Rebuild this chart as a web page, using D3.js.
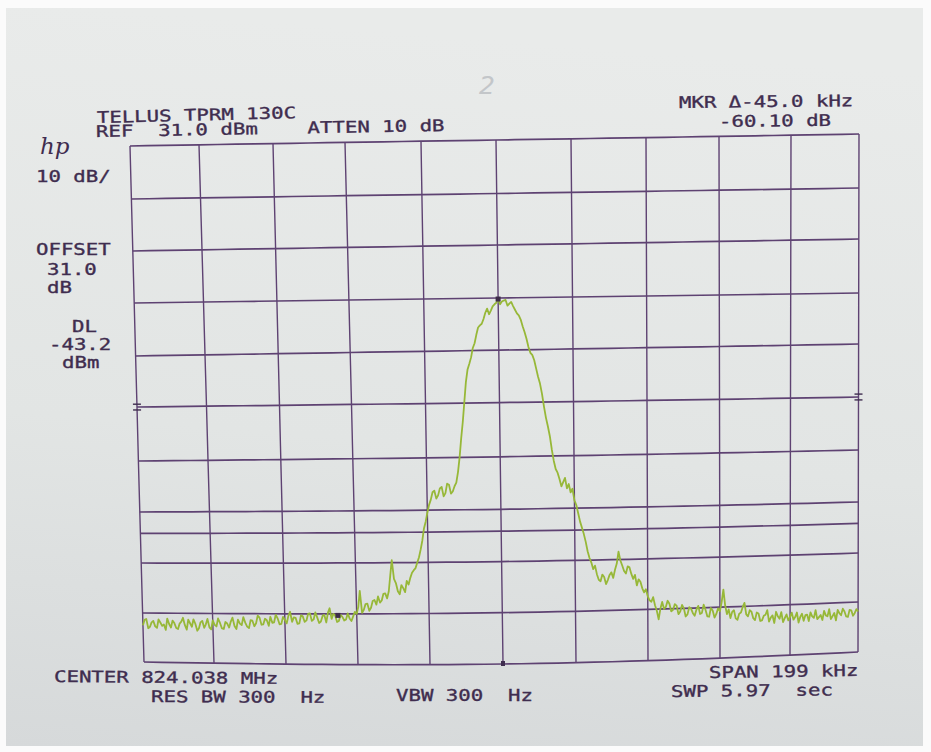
<!DOCTYPE html>
<html>
<head>
<meta charset="utf-8">
<script src="https://cdn.jsdelivr.net/npm/d3@7"></script>
<style>
  html, body { margin: 0; padding: 0; background: #fff; }
  svg { display: block; }
  text { font-family: "DejaVu Sans Mono", "Liberation Mono", monospace; white-space: pre; font-variant-numeric: slashed-zero; }
</style>
</head>
<body>
<svg id="chart" width="931" height="752"></svg>
<script>
// ---- Analyzer settings -------------------------------------------------
const centerMHz = 824.038;
const spanKHz = 199;
const refLevelDbm = 31.0;
const dbPerDiv = 10;
const attenDb = 10;
const offsetDb = 31.0;
const displayLineDbm = -43.2;
const markerDeltaKHz = -45.0;
const markerDeltaDb = -60.10;
const resBwHz = 300;
const vbwHz = 300;
const sweepSec = 5.97;
const deviceTitle = "TELLUS TPRM 130C";

// ---- Swept trace, dBm at 401 equally spaced points across the span ------
const traceDbm = [
  -61.5, -60.4, -60.2, -62.1, -61.8, -60.9, -60.6, -61.7, -62.0, -60.3,
  -60.9, -61.6, -61.3, -62.4, -60.1, -61.2, -61.9, -60.5, -61.0, -62.0,
  -62.2, -61.1, -60.7, -59.9, -61.4, -62.3, -60.3, -61.0, -61.7, -60.2,
  -61.1, -62.5, -62.0, -60.8, -60.5, -61.9, -61.2, -60.1, -61.8, -62.2,
  -60.4, -61.3, -61.6, -60.0, -60.9, -62.0, -62.1, -60.7, -61.0, -61.8,
  -60.6, -59.8, -61.5, -62.1, -60.2, -61.0, -61.3, -59.7, -60.8, -61.6,
  -61.9, -60.3, -60.4, -61.5, -60.9, -59.4, -59.8, -61.2, -61.1, -60.0,
  -60.3, -61.4, -59.6, -60.8, -60.7, -59.2, -59.9, -61.1, -61.0, -59.6,
  -60.2, -60.9, -59.4, -58.6, -60.6, -59.7, -59.8, -61.0, -60.9, -59.3,
  -59.5, -60.6, -60.3, -59.0, -58.9, -60.4, -60.1, -58.7, -59.7, -60.8,
  -60.5, -59.4, -59.2, -60.7, -58.8, -57.9, -60.0, -59.0, -59.3, -60.6,
  -60.4, -59.2, -59.6, -60.3, -60.1, -58.9, -59.9, -60.4, -59.5, -58.6,
  -59.0, -57.6, -54.5, -58.8, -58.2, -57.1, -57.0, -58.4, -57.8, -56.5,
  -56.3, -57.2, -55.6, -56.8, -56.4, -55.1, -55.0, -56.0, -54.6, -51.5,
  -48.5, -52.2, -53.0, -54.6, -55.2, -53.4, -54.0, -54.8, -52.6, -53.3,
  -52.0, -51.0, -50.5, -50.1, -49.0, -48.0, -46.5, -44.8, -42.5, -41.2,
  -39.5, -38.0, -37.0, -35.6, -35.3, -36.8, -36.2, -34.9, -34.6, -36.4,
  -35.8, -34.0, -34.2, -35.9, -35.5, -34.5, -33.8, -31.8, -29.0, -25.5,
  -22.5, -18.8, -15.0, -12.6, -11.5, -10.3, -8.5, -7.6, -6.0, -4.6,
  -4.2, -3.9, -3.0, -1.8, -1.0, -2.1, -1.4, -0.6, -0.2, 0.1,
   0.8, -0.2, 0.3, 0.5, 0.6, -0.5, -0.1, 0.2, -0.6, -1.3,
  -2.0, -2.4, -3.2, -4.5, -5.6, -6.9, -8.5, -9.6, -10.0, -11.0,
  -12.6, -14.2, -15.5, -17.4, -19.8, -21.9, -23.5, -25.3, -27.8, -29.9,
  -31.5, -32.2, -33.4, -34.8, -34.0, -33.2, -35.2, -34.4, -36.0, -35.3,
  -37.5, -38.4, -40.0, -41.6, -42.8, -44.0, -45.5, -47.3, -48.6, -49.5,
  -50.8, -50.1, -51.8, -52.9, -53.2, -51.9, -52.4, -53.8, -53.0, -52.0,
  -51.5, -52.6, -51.0, -49.8, -47.5, -49.2, -50.2, -51.3, -51.8, -50.4,
  -50.6, -51.9, -52.9, -52.1, -54.2, -53.0, -53.5, -54.8, -55.6, -55.0,
  -56.4, -57.2, -57.5, -56.6, -58.2, -59.3, -61.0, -58.9, -57.6, -59.0,
  -58.6, -57.4, -58.0, -59.5, -59.2, -58.1, -58.4, -60.1, -59.6, -58.3,
  -59.0, -60.6, -60.2, -58.8, -59.1, -60.0, -60.5, -59.3, -58.6, -60.2,
  -60.0, -58.4, -59.4, -60.7, -60.8, -59.1, -59.6, -61.0, -60.3, -59.2,
  -59.8, -58.0, -55.5, -58.7, -60.4, -59.5, -61.2, -60.0, -59.7, -61.3,
  -61.6, -60.4, -60.2, -59.1, -58.3, -60.6, -61.0, -59.8, -60.1, -61.4,
  -61.8, -60.3, -60.5, -62.0, -61.9, -61.0, -60.8, -59.9, -62.2, -61.4,
  -61.0, -62.5, -60.3, -61.2, -61.7, -60.4, -62.4, -61.6, -60.9, -62.1,
  -61.4, -60.6, -62.0, -61.5, -60.6, -62.6, -61.5, -60.9, -62.3, -61.2,
  -61.1, -62.4, -60.7, -61.5, -61.8, -60.3, -62.1, -61.7, -61.3, -62.3,
  -60.5, -61.4, -61.6, -60.2, -62.2, -61.6, -61.0, -62.5, -60.4, -61.1,
  -61.5, -60.2, -60.8, -61.8, -61.9, -60.5, -60.6, -61.7, -61.2, -60.4,
  -60.9
];

// ---- Annotation strings -------------------------------------------------
const headerLabels = [
  deviceTitle,
  `REF  ${refLevelDbm.toFixed(1)} dBm    ATTEN ${attenDb} dB`
];
const markerLabels = [
  `MKR \u0394${markerDeltaKHz.toFixed(1)} kHz`,
  `${markerDeltaDb.toFixed(2)} dB`
];
const sideLabels = [
  `${dbPerDiv} dB/`,
  "OFFSET", offsetDb.toFixed(1), "dB",
  "DL", displayLineDbm.toFixed(1), "dBm"
];
const footerLabels = [
  `CENTER ${centerMHz.toFixed(3)} MHz`,
  `RES BW ${resBwHz}  Hz`,
  `VBW ${vbwHz}  Hz`,
  `SPAN ${spanKHz} kHz`,
  `SWP ${sweepSec.toFixed(2)}  sec`
];

// ---- Page geometry: the plotted sheet is photographed slightly askew ----
const W = 931, H = 752;
const gridTopX   = [130, 199, 273, 345, 421, 496, 571, 646, 719, 791, 859];
const gridBotX   = [144, 214, 286, 358, 430, 503, 576, 648, 720, 790, 858];
const gridLeftY  = [146, 199, 251, 303, 356, 407, 461, 512, 563, 613, 662];
const gridRightY = [134, 188, 239, 293, 344, 397, 450, 502, 553, 602, 652];

const ink = "#3f2d4f";
const gridInk = "#5e4272";
const traceInk = "#97b838";

const svg = d3.select("#chart");

// paper
const defs = svg.append("defs");
const paperGrad = defs.append("linearGradient").attr("id", "paper")
  .attr("x1", 0.1).attr("y1", 0).attr("x2", 0).attr("y2", 1);
paperGrad.append("stop").attr("offset", 0).attr("stop-color", "#e9ebea");
paperGrad.append("stop").attr("offset", 0.55).attr("stop-color", "#e2e5e4");
paperGrad.append("stop").attr("offset", 1).attr("stop-color", "#d6d9da");
svg.append("rect").attr("width", W).attr("height", H).attr("fill", "#fbfbfb");
svg.append("rect").attr("x", 6).attr("y", 8).attr("width", 917).attr("height", 738)
  .attr("fill", "url(#paper)");

// scales: value -> graticule division, division -> page position
const freqToDiv = d3.scaleLinear().domain([-spanKHz / 2, spanKHz / 2]).range([0, 10]);
const dbmToDiv = d3.scaleLinear().domain([refLevelDbm, refLevelDbm - 10 * dbPerDiv]).range([0, 10]);
const divs = d3.range(11);
const topEdgeX = d3.scaleLinear().domain(divs).range(gridTopX);
const botEdgeX = d3.scaleLinear().domain(divs).range(gridBotX);
const leftEdgeY = d3.scaleLinear().domain(divs).range(gridLeftY);
const rightEdgeY = d3.scaleLinear().domain(divs).range(gridRightY);

function warp(u, v) {
  const xt = topEdgeX(u), xb = botEdgeX(u);
  const yl = leftEdgeY(v), yr = rightEdgeY(v);
  const sag = 7 * Math.sin(Math.PI * u / 10) * Math.pow(Math.max(0, (v - 3) / 7), 2);
  return [xt + (xb - xt) * v / 10, yl + (yr - yl) * u / 10 + sag];
}

const pathLine = d3.line().x(p => p[0]).y(p => p[1]);
const samples = d3.range(0, 10.001, 0.25);

const grid = svg.append("g").attr("fill", "none").attr("stroke", gridInk);
// vertical divisions
grid.selectAll("path.v").data(divs).join("path").attr("class", "v")
  .attr("stroke-width", 1.4)
  .attr("d", k => pathLine(samples.map(v => warp(k, v))));
// horizontal divisions
grid.selectAll("path.h").data(divs).join("path").attr("class", "h")
  .attr("stroke-width", 1.7)
  .attr("d", k => pathLine(samples.map(u => warp(u, k))));
// display line
grid.append("path").attr("stroke-width", 1.7)
  .attr("d", pathLine(samples.map(u => warp(u, dbmToDiv(displayLineDbm)))));

// reference marks on the side edges and centre mark on the bottom edge
const refMarks = svg.append("g").attr("stroke", ink).attr("stroke-width", 1.4);
[0, 10].forEach(u => {
  [-0.055, 0.055].forEach(dv => {
    const p = warp(u, 5 + dv);
    refMarks.append("line").attr("x1", p[0] - 4).attr("x2", p[0] + 4)
      .attr("y1", p[1]).attr("y2", p[1]);
  });
});
{
  const c = warp(freqToDiv(0), 10);
  svg.append("rect").attr("x", c[0] - 2).attr("y", c[1] - 3).attr("width", 4).attr("height", 5)
    .attr("fill", ink);
}

// trace
const sweep = traceDbm.map((a, i) => ({
  f: -spanKHz / 2 + i * spanKHz / (traceDbm.length - 1),
  a
}));
const trace = d3.line()
  .x(d => warp(freqToDiv(d.f), dbmToDiv(d.a))[0])
  .y(d => warp(freqToDiv(d.f), dbmToDiv(d.a))[1]);
svg.append("path").datum(sweep)
  .attr("fill", "none").attr("stroke", traceInk).attr("stroke-width", 1.8)
  .attr("stroke-linejoin", "round").attr("d", trace);

// markers: peak and delta marker
const peak = d3.greatest(sweep, d => d.a);
const markers = [
  { f: peak.f, a: peak.a },
  { f: peak.f + markerDeltaKHz, a: peak.a + markerDeltaDb }
];
svg.selectAll("rect.mkr").data(markers).join("rect").attr("class", "mkr")
  .attr("x", d => warp(freqToDiv(d.f), dbmToDiv(d.a))[0] - 2.5)
  .attr("y", d => warp(freqToDiv(d.f), dbmToDiv(d.a))[1] - 2.5)
  .attr("width", 5).attr("height", 5).attr("fill", "#3d2c48");

// plotter lettering
const pitch = 12.45;
function plotText(str, x, y, rot) {
  svg.append("text")
    .attr("x", x).attr("y", y)
    .attr("transform", `rotate(${rot},${x},${y})`)
    .attr("font-size", 16)
    .attr("fill", ink)
    .attr("stroke", ink).attr("stroke-width", 0.35)
    .attr("textLength", str.length * pitch)
    .attr("lengthAdjust", "spacingAndGlyphs")
    .text(str);
}

plotText(headerLabels[0], 97, 123, -1.4);
plotText(headerLabels[1], 96, 137, -1.0);
plotText(markerLabels[0], 679, 108, -0.6);
plotText(markerLabels[1], 719, 127, -0.6);

const sidePlaces = [[36, 182], [36, 255], [47, 275], [47, 293], [72, 332], [49, 350], [62, 368]];
sideLabels.forEach((s, i) => plotText(s, sidePlaces[i][0], sidePlaces[i][1], 0));

const footPlaces = [[54, 682, 0.5], [151, 702, 0.3], [396, 701, 0], [709, 678, -0.8], [671, 697, -0.6]];
footerLabels.forEach((s, i) => plotText(s, footPlaces[i][0], footPlaces[i][1], footPlaces[i][2]));

// manufacturer logo
svg.append("text").attr("x", 40).attr("y", 154)
  .style("font-family", "'DejaVu Serif', serif").style("font-style", "italic")
  .attr("font-size", 23).attr("fill", ink).text("hp");

// pencilled sheet number
svg.append("text").attr("x", 479).attr("y", 94)
  .style("font-family", "'DejaVu Sans', sans-serif").style("font-style", "italic")
  .style("font-weight", 200)
  .attr("font-size", 25).attr("fill", "#c3c6c9").text("2");
</script>
</body>
</html>
